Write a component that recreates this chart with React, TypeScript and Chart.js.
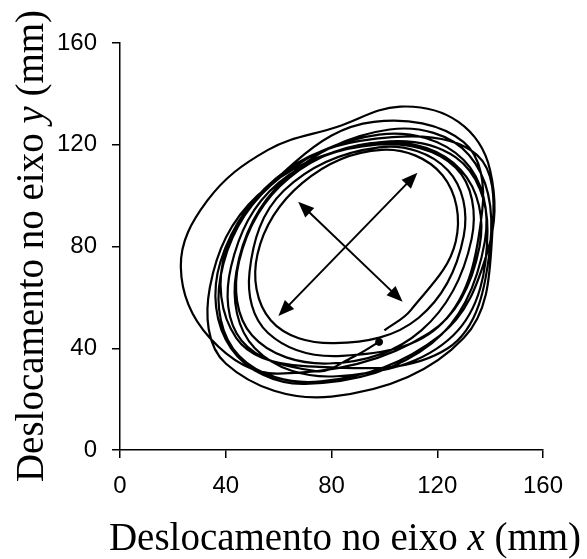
import { useEffect, useRef } from "react";
import { Chart, registerables } from "chart.js";

Chart.register(...registerables);

type Pt = [number, number];

// Trajectory of the point (mm), one revolution per list, clockwise:
// bottom, lower-left, left, upper-left, top, upper-right, right, lower-right
const startTail: Pt[] = [[98, 42.5], [88, 36.5]];
const loop01: Pt[] = [[74, 31], [46, 43], [42, 72], [60, 105], [97, 120], [127, 111], [133, 83], [114, 47]];
const loop02: Pt[] = [[79, 34], [50, 45], [45, 74], [64, 107], [100, 121], [129, 110], [136, 80], [117, 46]];
const loop03: Pt[] = [[60, 30], [34, 44], [23, 72], [33, 98], [56, 118], [82, 127], [106, 135], [128, 129], [140, 110], [139, 78], [121, 45]];
const loop04: Pt[] = [[76, 27], [45, 37], [38, 68], [57, 104], [98, 124], [130, 114], [138, 82], [118, 42]];
const loop05: Pt[] = [[70, 26], [42, 40], [38, 74], [63, 110], [103, 123], [135, 116], [141, 88], [130, 44]];
const loop06: Pt[] = [[80, 21], [40, 34], [34, 64], [52, 100], [92, 120], [127, 115], [139, 86], [126, 45]];
const loop07: Pt[] = [[82, 29], [51, 40], [44, 70], [62, 106], [102, 126], [132, 116], [140, 80], [124, 40]];
const loop08: Pt[] = [[70, 33], [44, 44], [40, 78], [66, 113], [96, 129], [130, 121], [137, 94], [122, 50]];
const loop09: Pt[] = [[84, 37], [56, 46], [49, 70], [62, 102], [98, 119], [124, 110], [130, 84], [113, 52]];
const loop10: Pt[] = [[81, 42], [57, 51], [52, 77], [69, 105], [99, 118], [122, 108], [127, 82], [110, 55]];
const endTail: Pt[] = [[100, 47]];

// Starting marker
const startMarker: Pt[] = [[98, 42.5]];

// Double-headed arrows showing the two principal directions
const arrowA: Pt[] = [[59.9, 52.7], [112.5, 109.0]];
const arrowB: Pt[] = [[67.4, 97.6], [106.9, 58.3]];

// Axis ticks
const xTicks = [0, 40, 80, 120, 160];
const yTicks = [0, 40, 80, 120, 160];

const xTitleParts = [
  { text: "Deslocamento no eixo ", italic: false },
  { text: "x", italic: true },
  { text: " (mm)", italic: false },
];
const yTitleParts = [
  { text: "Deslocamento no eixo ", italic: false },
  { text: "y", italic: true },
  { text: " (mm)", italic: false },
];

const path: Pt[] = [
  ...startTail,
  ...loop01, ...loop02, ...loop03, ...loop04, ...loop05,
  ...loop06, ...loop07, ...loop08, ...loop09, ...loop10,
  ...endTail,
];

const SERIF = '"Liberation Serif", "Times New Roman", serif';
const SANS = '"Liberation Sans", Arial, sans-serif';
const TITLE_SIZE = 39;

function drawParts(ctx: CanvasRenderingContext2D, parts: { text: string; italic: boolean }[]) {
  const fontFor = (it: boolean) => `${it ? "italic " : ""}${TITLE_SIZE}px ${SERIF}`;
  let total = 0;
  const widths = parts.map((p) => {
    ctx.font = fontFor(p.italic);
    const w = ctx.measureText(p.text).width;
    total += w;
    return w;
  });
  let x = -total / 2;
  parts.forEach((p, i) => {
    ctx.font = fontFor(p.italic);
    ctx.fillText(p.text, x, 0);
    x += widths[i];
  });
}

const titlesPlugin = {
  id: "axisTitles",
  afterDraw(chart: any) {
    const ctx: CanvasRenderingContext2D = chart.ctx;
    ctx.save();
    ctx.fillStyle = "#000";
    ctx.textBaseline = "alphabetic";
    ctx.textAlign = "left";
    ctx.save();
    ctx.translate(345, 550);
    drawParts(ctx, xTitleParts);
    ctx.restore();
    ctx.save();
    ctx.translate(43, 246);
    ctx.rotate(-Math.PI / 2);
    drawParts(ctx, yTitleParts);
    ctx.restore();
    ctx.restore();
  },
};

function arrowHead(ctx: CanvasRenderingContext2D, tx: number, ty: number, fx: number, fy: number) {
  const ang = Math.atan2(ty - fy, tx - fx);
  const len = 16;
  const half = 6.5;
  const bx = tx - len * Math.cos(ang);
  const by = ty - len * Math.sin(ang);
  ctx.beginPath();
  ctx.moveTo(tx, ty);
  ctx.lineTo(bx + half * Math.sin(ang), by - half * Math.cos(ang));
  ctx.lineTo(bx - half * Math.sin(ang), by + half * Math.cos(ang));
  ctx.closePath();
  ctx.fill();
}

const arrowsPlugin = {
  id: "arrows",
  afterDatasetsDraw(chart: any) {
    const ctx: CanvasRenderingContext2D = chart.ctx;
    const xs = chart.scales.x;
    const ys = chart.scales.y;
    ctx.save();
    ctx.strokeStyle = "#000";
    ctx.fillStyle = "#000";
    ctx.lineWidth = 2;
    [arrowA, arrowB].forEach((a) => {
      const x1 = xs.getPixelForValue(a[0][0]);
      const y1 = ys.getPixelForValue(a[0][1]);
      const x2 = xs.getPixelForValue(a[1][0]);
      const y2 = ys.getPixelForValue(a[1][1]);
      const ang = Math.atan2(y2 - y1, x2 - x1);
      const inset = 12;
      ctx.beginPath();
      ctx.moveTo(x1 + inset * Math.cos(ang), y1 + inset * Math.sin(ang));
      ctx.lineTo(x2 - inset * Math.cos(ang), y2 - inset * Math.sin(ang));
      ctx.stroke();
      arrowHead(ctx, x1, y1, x2, y2);
      arrowHead(ctx, x2, y2, x1, y1);
    });
    ctx.restore();
  },
};

export default function App() {
  const ref = useRef<HTMLCanvasElement | null>(null);

  useEffect(() => {
    if (!ref.current) return;
    const axisCommon = (ticks: number[], pad: number) => ({
      type: "linear" as const,
      min: ticks[0],
      max: ticks[ticks.length - 1],
      afterBuildTicks: (scale: any) => {
        scale.ticks = ticks.map((v) => ({ value: v }));
      },
      ticks: {
        color: "#000",
        padding: pad,
        font: { family: SANS, size: 24 },
      },
      grid: {
        drawOnChartArea: false,
        drawTicks: true,
        tickLength: 8,
        color: "#000",
        lineWidth: 1.5,
      },
      border: { color: "#000", width: 1.5 },
    });

    const chart = new Chart(ref.current, {
      type: "scatter",
      data: {
        datasets: [
          {
            data: path.map(([x, y]) => ({ x, y })),
            showLine: true,
            borderColor: "#000",
            borderWidth: 2.2,
            pointRadius: 0,
            tension: 0.38,
            fill: false,
          },
          {
            data: startMarker.map(([x, y]) => ({ x, y })),
            showLine: false,
            pointRadius: 3.5,
            pointBackgroundColor: "#000",
            pointBorderColor: "#000",
          },
        ],
      },
      options: {
        responsive: false,
        animation: false,
        layout: { padding: { top: 43, right: 44, left: 0, bottom: 0 } },
        plugins: {
          legend: { display: false },
          tooltip: { enabled: false },
          title: { display: false },
        },
        scales: {
          x: {
            ...axisCommon(xTicks, 14),
            position: "bottom",
            afterFit: (s: any) => {
              s.height = 109;
            },
          },
          y: {
            ...axisCommon(yTicks, 15),
            position: "left",
            afterFit: (s: any) => {
              s.width = 120;
            },
          },
        },
      },
      plugins: [arrowsPlugin, titlesPlugin],
    });
    return () => chart.destroy();
  }, []);

  return (
    <div style={{ position: "absolute", left: 0, top: 0, width: 587, height: 559, background: "#fff" }}>
      <canvas ref={ref} width={587} height={559} style={{ display: "block" }} />
    </div>
  );
}
